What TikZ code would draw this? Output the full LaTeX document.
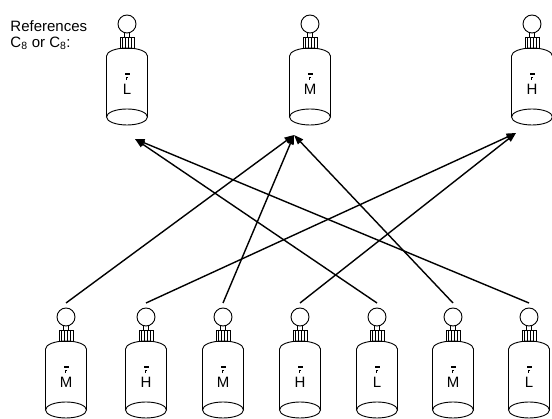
\documentclass[tikz,border=0pt]{standalone}
\usepackage{fontspec}
\setmainfont{Liberation Sans}
\usetikzlibrary{arrows.meta}

% botol: #1 nama, #2 x, #3 y puncak tombol, #4 huruf
\newcommand{\botol}[4]
	{
	\begin{scope}[shift={(#2,#3)}]
	% tombol bulat dan leher
	\draw (0,9) circle (9pt);
	\draw (-2.5,18) -- (-2.5,22) (2.5,18) -- (2.5,22);
	% tutup ulir
	\draw (-7,22) rectangle (7,33);
	\foreach \u in {-4.5,-1.5,1.5,4.5} \draw (\u,22) -- (\u,33);
	% badan botol
	\draw (-20.5,41) arc[start angle=180,end angle=0,x radius=20.5pt,y radius=8pt];
	\draw (-20.5,41) -- (-20.5,102) (20.5,41) -- (20.5,102);
	\draw (0,102) ellipse (20.5pt and 8pt);
	% label kecil dan huruf
	\fill (-2.5,58) rectangle (2.5,60);
	\draw[line width=.5pt] (1,62.5) -- (-1,62.5) -- (-1,65);
	\node[font=\fontsize{15}{15}\selectfont] at (0,74) {#4};
	\end{scope}
	\coordinate (#1) at (#2,#3-5);
	}

\begin{document}
\begin{tikzpicture}[x=1pt,y=-1pt,line width=.9pt,
	panah/.style={-{Triangle[length=9.5pt,width=7pt]},line width=1.4pt}]
\useasboundingbox (0,0) rectangle (552,419);

% keterangan
\node[anchor=north west,align=left,inner sep=0,font=\fontsize{15}{16}\selectfont] (ket) at (10,20)
	{References\\C\textsubscript{8} or C\textsubscript{8}:};

% botol acuan
\botol{refL}{127}{15}{L}
\botol{refM}{310}{15}{M}
\botol{refH}{532}{15}{H}

% ujung panah di bawah botol acuan
\coordinate (tujuanL) at (135,139);
\coordinate (tujuanM) at (294,135);
\coordinate (tujuanH) at (516,133);

% botol sampel
\botol{b1}{66}{308}{M}
\botol{b2}{146}{308}{H}
\botol{b3}{223}{308}{M}
\botol{b4}{300}{308}{H}
\botol{b5}{377}{308}{L}
\botol{b6}{453}{308}{M}
\botol{b7}{529}{308}{L}

% panah
\draw[panah] (b1) -- (tujuanM);
\draw[panah] (b2) -- (tujuanH);
\draw[panah] (b3) -- (tujuanM);
\draw[panah] (b4) -- (tujuanH);
\draw[panah] (b5) -- (tujuanL);
\draw[panah] (b6) -- (tujuanM);
\draw[panah] (b7) -- (tujuanL);

\end{tikzpicture}
\end{document}
